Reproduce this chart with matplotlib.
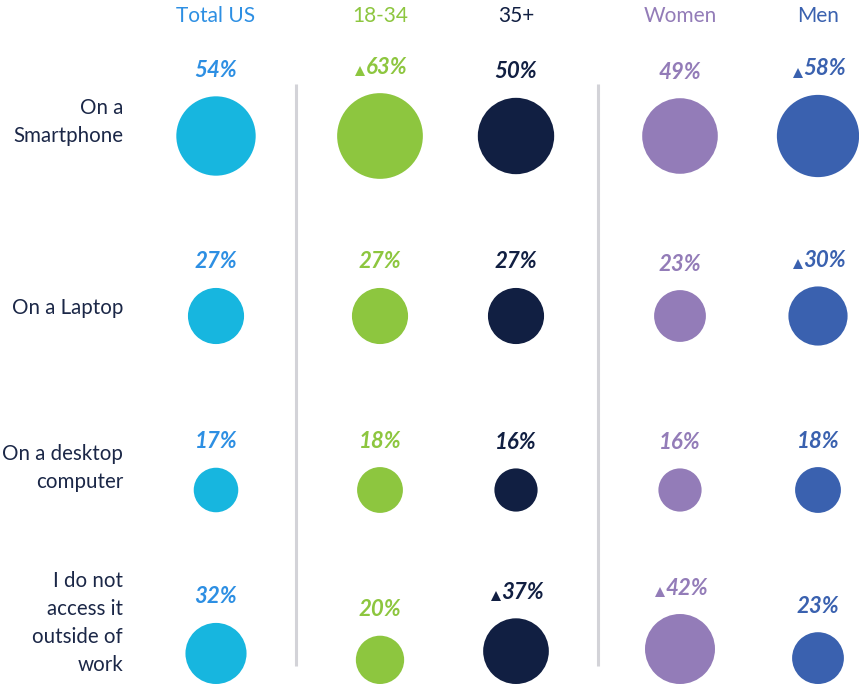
import matplotlib.pyplot as plt
from matplotlib.patches import Circle
import numpy as np

# Data
groups = ["Total US", "18-34", "35+", "Women", "Men"]
rows = ["On a\nSmartphone", "On a Laptop", "On a desktop\ncomputer",
        "I do not\naccess it\noutside of\nwork"]
total_us = [54, 27, 17, 32]
age_18_34 = [63, 27, 18, 20]
age_35_plus = [50, 27, 16, 37]
women = [49, 23, 16, 42]
men = [58, 30, 18, 23]
# significantly higher markers (the small triangles)
sig_total = [False, False, False, False]
sig_18_34 = [True, False, False, False]
sig_35_plus = [False, False, False, True]
sig_women = [False, False, False, True]
sig_men = [True, True, False, False]

values = [total_us, age_18_34, age_35_plus, women, men]
sigs = [sig_total, sig_18_34, sig_35_plus, sig_women, sig_men]

# Colours
circle_colors = ["#17B6DF", "#8DC63F", "#111F42", "#937CB8", "#3A61AF"]
text_colors = ["#2D8FE3", "#8DC63F", "#111F42", "#937CB8", "#3A61AF"]
navy = "#1B2747"

plt.rcParams["font.family"] = ["Lato", "DejaVu Sans"]

W, H = 859, 687
fig = plt.figure(figsize=(W / 100, H / 100), dpi=100)
ax = fig.add_axes([0, 0, 1, 1])
ax.set_xlim(0, W)
ax.set_ylim(H, 0)
ax.axis("off")
renderer = fig.canvas.get_renderer()

col_x = [216, 380, 516, 680, 818]
row_y = [136, 316, 490, None]   # last row is bottom-aligned
row4_bottom = 684
label_y = [122, 308, 468, 623]
k = 5.4  # radius scale: area proportional to value

# Column headers
for x, g, c in zip(col_x, groups, text_colors):
    ax.text(x, 16, g, ha="center", va="center", fontsize=15, color=c)

# Row labels
for y, r in zip(label_y, rows):
    ax.text(123, y, r, ha="right", va="center", fontsize=14.8, color=navy,
            linespacing=1.5)

# Separators
for x in [296, 598]:
    ax.plot([x, x], [84, 666], color="#D3D3D8", lw=2.2, solid_capstyle="butt")

# Bubbles and labels
for j, (x, vals, sg) in enumerate(zip(col_x, values, sigs)):
    for i, (y, v) in enumerate(zip(row_y, vals)):
        r = k * np.sqrt(v)
        if y is None:
            y = row4_bottom - r
        ax.add_patch(Circle((x, y), r, color=circle_colors[j], lw=0))
        ty = y - r - 26
        tx = x + 7 if sg[i] else x
        t = ax.text(tx, ty, f"{v}%", ha="center", va="center", fontsize=16,
                    fontweight="bold", style="italic", color=text_colors[j])
        if sg[i]:
            bb = t.get_window_extent(renderer)
            ax.plot(bb.x0 - 6, ty + 4, marker="^", ms=6.5, mew=0,
                    color=text_colors[j])

fig.savefig("out.png", dpi=100)
